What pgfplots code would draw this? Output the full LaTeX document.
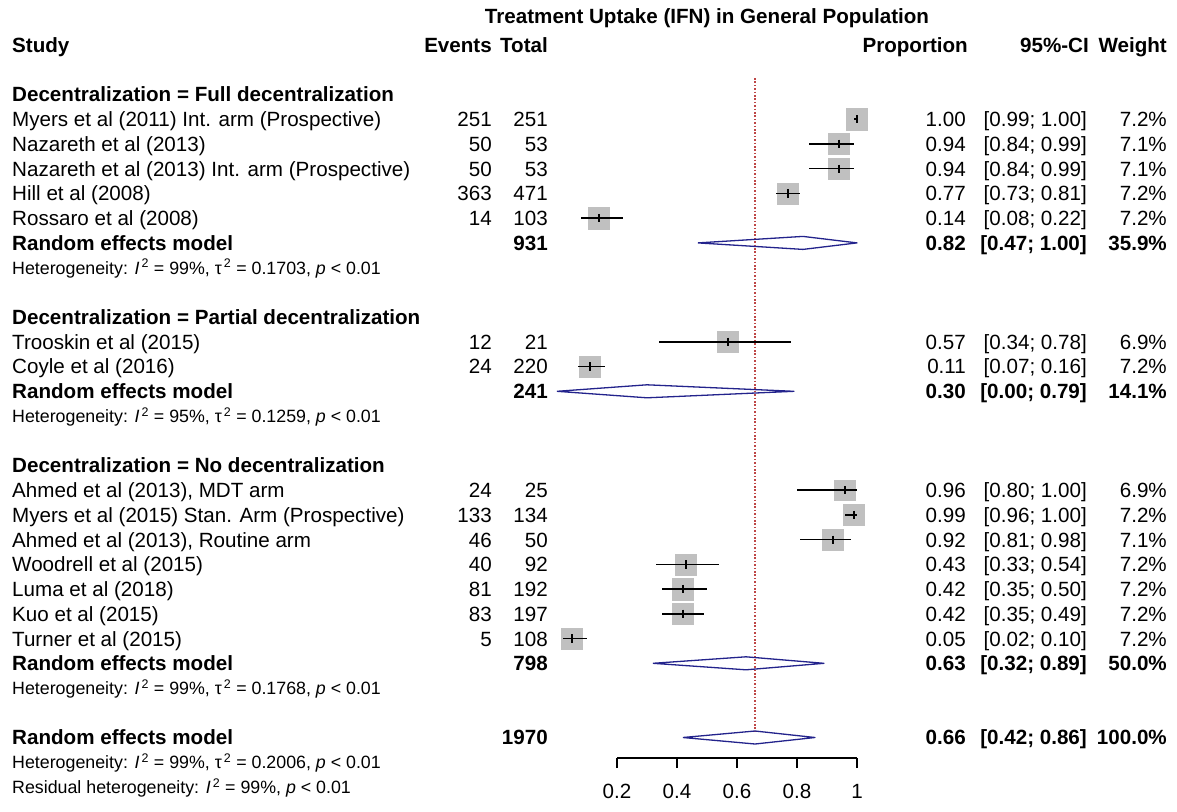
\documentclass[border=0pt]{standalone}
\usepackage{fontspec}
\setmainfont{Liberation Sans}
\usepackage{pgfplots}
\usepackage{pgfplotstable}
\pgfplotsset{compat=1.18}

\definecolor{boxgray}{RGB}{192,192,192}
\definecolor{diamondblue}{RGB}{35,35,140}
\definecolor{refred}{RGB}{190,70,70}

\newcommand{\mainfont}{\fontsize{20.6}{24}\selectfont}
\newcommand{\hetfont}{\fontsize{17.8}{21}\selectfont}
\newcommand{\hetline}[3]{Heterogeneity: \textit{I}\textsuperscript{\,2} = #1\%, τ\textsuperscript{\,2} = #2, \textit{p} < #3}

% individual studies: row position (from the top), proportion, 95%-CI, weight (%)
\pgfplotstableread{
y     est  lo   hi   w
119.2 1.00 0.99 1.00 7.2
143.9 0.94 0.84 0.99 7.1
168.7 0.94 0.84 0.99 7.1
193.4 0.77 0.73 0.81 7.2
218.1 0.14 0.08 0.22 7.2
341.8 0.57 0.34 0.78 6.9
366.5 0.11 0.07 0.16 7.2
490.2 0.96 0.80 1.00 6.9
514.9 0.99 0.96 1.00 7.2
539.7 0.92 0.81 0.98 7.1
564.4 0.43 0.33 0.54 7.2
589.1 0.42 0.35 0.50 7.2
613.8 0.42 0.35 0.49 7.2
638.6 0.05 0.02 0.10 7.2
}\studies

\tikzset{
  lft/.style={anchor=base west, inner sep=0pt, yshift=-7.4pt, font=\mainfont},
  rgt/.style={anchor=base east, inner sep=0pt, yshift=-7.4pt, font=\mainfont},
  ctr/.style={anchor=base, inner sep=0pt, yshift=-7.4pt, font=\mainfont},
  het/.style={anchor=base west, inner sep=0pt, yshift=-6.4pt, font=\hetfont},
}

\begin{document}
\begin{tikzpicture}
\useasboundingbox (0,0) rectangle (1177pt,811pt);

% ---------- forest panel (x in proportion units, y in rows from the top)
\begin{axis}[
  at={(0,0)}, anchor=south west, scale only axis,
  width=1177pt, height=811pt,
  xmin=-1.856667, xmax=2.066667, ymin=0, ymax=811, y dir=reverse,
  hide axis, clip=false, clip mode=individual]

% pooled estimate reference line
\addplot[refred, line width=1.3pt, dash pattern=on 1.6pt off 1.8pt] coordinates {(0.66,78) (0.66,731)};

% study squares, area proportional to weight
\addplot[scatter, only marks, mark=square*,
  scatter/use mapped color={draw=boxgray, fill=boxgray},
  visualization depends on={\thisrow{w} \as \wt},
  scatter/@pre marker code/.append style={/tikz/mark size={10.7*sqrt(\wt/7.2)}}]
  table[x=est, y=y, meta=w] {\studies};

% confidence intervals and point estimates
\addplot[black, only marks, mark=|, mark size=4.2pt, mark options={line width=1.2pt},
  error bars/.cd, x dir=both, x explicit, error mark=none,
  error bar style={line width=1.5pt, black}]
  table[x=est, y=y,
        x error plus expr=\thisrow{hi}-\thisrow{est},
        x error minus expr=\thisrow{est}-\thisrow{lo}] {\studies};

% random effects diamonds
\addplot[diamondblue, line width=1.3pt, line join=round] coordinates
  {(0.47,242.9) (0.82,236.4) (1.00,242.9) (0.82,249.4) (0.47,242.9)};
\addplot[diamondblue, line width=1.3pt, line join=round] coordinates
  {(0.00,391.3) (0.30,384.8) (0.79,391.3) (0.30,397.8) (0.00,391.3)};
\addplot[diamondblue, line width=1.3pt, line join=round] coordinates
  {(0.32,663.3) (0.63,656.8) (0.89,663.3) (0.63,669.8) (0.32,663.3)};
\addplot[diamondblue, line width=1.3pt, line join=round] coordinates
  {(0.42,737.5) (0.66,731.0) (0.86,737.5) (0.66,744.0) (0.42,737.5)};
\end{axis}

% ---------- proportion scale
\begin{axis}[
  at={(617pt,53pt)}, anchor=south west, scale only axis,
  width=240pt, height=10pt,
  xmin=0.2, xmax=1, ymin=0, ymax=1,
  axis x line*=bottom, axis y line=none,
  xtick={0.2,0.4,0.6,0.8,1}, xticklabels={0.2,0.4,0.6,0.8,1},
  tick align=outside, major tick length=10pt,
  every tick/.style={black, line width=1.3pt},
  axis line style={black, line width=1.3pt},
  xticklabel style={font=\mainfont, inner sep=0pt, yshift=-16pt}]
\addplot[draw=none] coordinates {(0.2,0) (1,0)};
\end{axis}

% ---------- text columns (x and y in picture units from the top left)
\begin{axis}[
  at={(0,0)}, anchor=south west, scale only axis,
  width=1177pt, height=811pt,
  xmin=0, xmax=1177, ymin=0, ymax=811, y dir=reverse,
  hide axis, clip=false]

\node[ctr] at (axis cs:707,16) {\bfseries Treatment Uptake (IFN) in General Population};

\node[lft] at (axis cs:12,45) {\bfseries Study};
\node[rgt] at (axis cs:492,45) {\bfseries Events};
\node[rgt] at (axis cs:548,45) {\bfseries Total};
\node[rgt] at (axis cs:968,45) {\bfseries Proportion};
\node[rgt] at (axis cs:1089,45) {\bfseries 95\%-CI};
\node[rgt] at (axis cs:1167,45) {\bfseries Weight};

% Full decentralization
\node[lft] at (axis cs:12,94.5) {\bfseries Decentralization = Full decentralization};
\node[lft] at (axis cs:12,119.2) {Myers et al (2011) Int. arm (Prospective)};
\node[lft] at (axis cs:12,143.9) {Nazareth et al (2013)};
\node[lft] at (axis cs:12,168.7) {Nazareth et al (2013) Int. arm (Prospective)};
\node[lft] at (axis cs:12,193.4) {Hill et al (2008)};
\node[lft] at (axis cs:12,218.1) {Rossaro et al (2008)};
\node[lft] at (axis cs:12,242.9) {\bfseries Random effects model};
\node[het] at (axis cs:12,267.6) {\hetline{99}{0.1703}{0.01}};

\node[rgt] at (axis cs:492,119.2) {251}; \node[rgt] at (axis cs:548,119.2) {251};
\node[rgt] at (axis cs:492,143.9) {50};  \node[rgt] at (axis cs:548,143.9) {53};
\node[rgt] at (axis cs:492,168.7) {50};  \node[rgt] at (axis cs:548,168.7) {53};
\node[rgt] at (axis cs:492,193.4) {363}; \node[rgt] at (axis cs:548,193.4) {471};
\node[rgt] at (axis cs:492,218.1) {14};  \node[rgt] at (axis cs:548,218.1) {103};
\node[rgt] at (axis cs:548,242.9) {\bfseries 931};

\node[rgt] at (axis cs:966,119.2) {1.00}; \node[rgt] at (axis cs:1087,119.2) {[0.99; 1.00]}; \node[rgt] at (axis cs:1167,119.2) {7.2\%};
\node[rgt] at (axis cs:966,143.9) {0.94}; \node[rgt] at (axis cs:1087,143.9) {[0.84; 0.99]}; \node[rgt] at (axis cs:1167,143.9) {7.1\%};
\node[rgt] at (axis cs:966,168.7) {0.94}; \node[rgt] at (axis cs:1087,168.7) {[0.84; 0.99]}; \node[rgt] at (axis cs:1167,168.7) {7.1\%};
\node[rgt] at (axis cs:966,193.4) {0.77}; \node[rgt] at (axis cs:1087,193.4) {[0.73; 0.81]}; \node[rgt] at (axis cs:1167,193.4) {7.2\%};
\node[rgt] at (axis cs:966,218.1) {0.14}; \node[rgt] at (axis cs:1087,218.1) {[0.08; 0.22]}; \node[rgt] at (axis cs:1167,218.1) {7.2\%};
\node[rgt] at (axis cs:966,242.9) {\bfseries 0.82}; \node[rgt] at (axis cs:1087,242.9) {\bfseries [0.47; 1.00]}; \node[rgt] at (axis cs:1167,242.9) {\bfseries 35.9\%};

% Partial decentralization
\node[lft] at (axis cs:12,317.1) {\bfseries Decentralization = Partial decentralization};
\node[lft] at (axis cs:12,341.8) {Trooskin et al (2015)};
\node[lft] at (axis cs:12,366.5) {Coyle et al (2016)};
\node[lft] at (axis cs:12,391.3) {\bfseries Random effects model};
\node[het] at (axis cs:12,416.0) {\hetline{95}{0.1259}{0.01}};

\node[rgt] at (axis cs:492,341.8) {12}; \node[rgt] at (axis cs:548,341.8) {21};
\node[rgt] at (axis cs:492,366.5) {24}; \node[rgt] at (axis cs:548,366.5) {220};
\node[rgt] at (axis cs:548,391.3) {\bfseries 241};

\node[rgt] at (axis cs:966,341.8) {0.57}; \node[rgt] at (axis cs:1087,341.8) {[0.34; 0.78]}; \node[rgt] at (axis cs:1167,341.8) {6.9\%};
\node[rgt] at (axis cs:966,366.5) {0.11}; \node[rgt] at (axis cs:1087,366.5) {[0.07; 0.16]}; \node[rgt] at (axis cs:1167,366.5) {7.2\%};
\node[rgt] at (axis cs:966,391.3) {\bfseries 0.30}; \node[rgt] at (axis cs:1087,391.3) {\bfseries [0.00; 0.79]}; \node[rgt] at (axis cs:1167,391.3) {\bfseries 14.1\%};

% No decentralization
\node[lft] at (axis cs:12,465.5) {\bfseries Decentralization = No decentralization};
\node[lft] at (axis cs:12,490.2) {Ahmed et al (2013), MDT arm};
\node[lft] at (axis cs:12,514.9) {Myers et al (2015) Stan. Arm (Prospective)};
\node[lft] at (axis cs:12,539.7) {Ahmed et al (2013), Routine arm};
\node[lft] at (axis cs:12,564.4) {Woodrell et al (2015)};
\node[lft] at (axis cs:12,589.1) {Luma et al (2018)};
\node[lft] at (axis cs:12,613.8) {Kuo et al (2015)};
\node[lft] at (axis cs:12,638.6) {Turner et al (2015)};
\node[lft] at (axis cs:12,663.3) {\bfseries Random effects model};
\node[het] at (axis cs:12,688.0) {\hetline{99}{0.1768}{0.01}};

\node[rgt] at (axis cs:492,490.2) {24};  \node[rgt] at (axis cs:548,490.2) {25};
\node[rgt] at (axis cs:492,514.9) {133}; \node[rgt] at (axis cs:548,514.9) {134};
\node[rgt] at (axis cs:492,539.7) {46};  \node[rgt] at (axis cs:548,539.7) {50};
\node[rgt] at (axis cs:492,564.4) {40};  \node[rgt] at (axis cs:548,564.4) {92};
\node[rgt] at (axis cs:492,589.1) {81};  \node[rgt] at (axis cs:548,589.1) {192};
\node[rgt] at (axis cs:492,613.8) {83};  \node[rgt] at (axis cs:548,613.8) {197};
\node[rgt] at (axis cs:492,638.6) {5};   \node[rgt] at (axis cs:548,638.6) {108};
\node[rgt] at (axis cs:548,663.3) {\bfseries 798};

\node[rgt] at (axis cs:966,490.2) {0.96}; \node[rgt] at (axis cs:1087,490.2) {[0.80; 1.00]}; \node[rgt] at (axis cs:1167,490.2) {6.9\%};
\node[rgt] at (axis cs:966,514.9) {0.99}; \node[rgt] at (axis cs:1087,514.9) {[0.96; 1.00]}; \node[rgt] at (axis cs:1167,514.9) {7.2\%};
\node[rgt] at (axis cs:966,539.7) {0.92}; \node[rgt] at (axis cs:1087,539.7) {[0.81; 0.98]}; \node[rgt] at (axis cs:1167,539.7) {7.1\%};
\node[rgt] at (axis cs:966,564.4) {0.43}; \node[rgt] at (axis cs:1087,564.4) {[0.33; 0.54]}; \node[rgt] at (axis cs:1167,564.4) {7.2\%};
\node[rgt] at (axis cs:966,589.1) {0.42}; \node[rgt] at (axis cs:1087,589.1) {[0.35; 0.50]}; \node[rgt] at (axis cs:1167,589.1) {7.2\%};
\node[rgt] at (axis cs:966,613.8) {0.42}; \node[rgt] at (axis cs:1087,613.8) {[0.35; 0.49]}; \node[rgt] at (axis cs:1167,613.8) {7.2\%};
\node[rgt] at (axis cs:966,638.6) {0.05}; \node[rgt] at (axis cs:1087,638.6) {[0.02; 0.10]}; \node[rgt] at (axis cs:1167,638.6) {7.2\%};
\node[rgt] at (axis cs:966,663.3) {\bfseries 0.63}; \node[rgt] at (axis cs:1087,663.3) {\bfseries [0.32; 0.89]}; \node[rgt] at (axis cs:1167,663.3) {\bfseries 50.0\%};

% Overall
\node[lft] at (axis cs:12,737.5) {\bfseries Random effects model};
\node[het] at (axis cs:12,762.2) {\hetline{99}{0.2006}{0.01}};
\node[het] at (axis cs:12,786.9) {Residual heterogeneity: \textit{I}\textsuperscript{\,2} = 99\%, \textit{p} < 0.01};
\node[rgt] at (axis cs:548,737.5) {\bfseries 1970};
\node[rgt] at (axis cs:966,737.5) {\bfseries 0.66}; \node[rgt] at (axis cs:1087,737.5) {\bfseries [0.42; 0.86]}; \node[rgt] at (axis cs:1167,737.5) {\bfseries 100.0\%};
\end{axis}
\end{tikzpicture}
\end{document}
